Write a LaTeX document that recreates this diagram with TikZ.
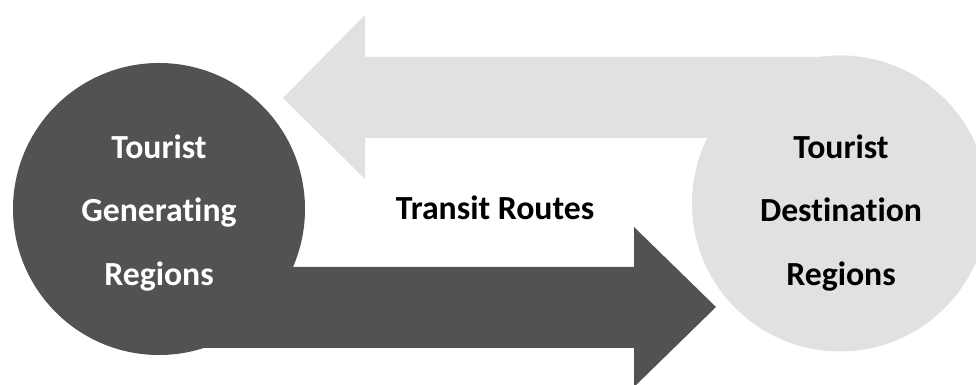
\documentclass[tikz,border=0pt]{standalone}
\usepackage{fontspec}
\setmainfont{Carlito}[Ligatures=NoCommon]
\definecolor{darkregion}{HTML}{525252}
\definecolor{lightregion}{HTML}{E1E1E1}
\tikzset{
  region/.style={circle, minimum size=#1, inner sep=0pt},
  region_text/.style={align=center, font=\bfseries\fontsize{24}{45}\selectfont},
}
\begin{document}
\begin{tikzpicture}
            % Frame of the picture
            \path[use as bounding box, clip] (0, 0) rectangle (24.4, 9.625);

            % The two regions
            \node[region=7.3cm, fill=darkregion] (gen_region) at (3.975, 4.4) {};
            \node[region=7.4cm, fill=lightregion] (dest_region) at (21.0, 4.54) {};

            % Return flow (light arrow, right to left)
            \fill[lightregion] (dest_region.center |- 0, 8.2) -- (9.125, 8.2) -- (9.125, 9.25)
                -- (7.075, 7.175) -- (9.125, 5.15) -- (9.125, 6.175)
                -- (dest_region.center |- 0, 6.175) -- cycle;

            % Outbound flow (dark arrow, left to right)
            \fill[darkregion] (gen_region.center |- 0, 2.95) -- (15.85, 2.95) -- (15.85, 3.95)
                -- (17.9, 1.95) -- (15.85, -0.05) -- (15.85, 0.925)
                -- (gen_region.center |- 0, 0.925) -- cycle;

            % Region names
            \node[region_text, text=white] (gen_label) at (3.975, 4.3)
                {Tourist\\Generating\\Regions};
            \node[region_text, text=black] (dest_label) at (21.025, 4.3)
                {Tourist\\Destination\\Regions};

            % Label between the arrows
            \node[font=\bfseries\fontsize{24}{28}\selectfont] (transit_label) at (12.375, 4.425)
                {Transit Routes};
        \end{tikzpicture}
\end{document}
